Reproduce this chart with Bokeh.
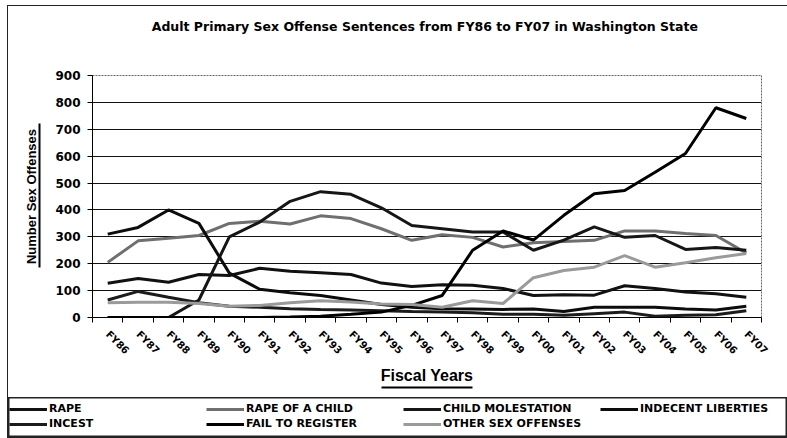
import math
from bokeh.plotting import figure
from bokeh.layouts import column
from bokeh.models import Range1d, FixedTicker, Legend, LegendItem, LinearAxis
from bokeh.embed import file_html
from bokeh.resources import INLINE

years = ["FY86", "FY87", "FY88", "FY89", "FY90", "FY91", "FY92", "FY93", "FY94", "FY95", "FY96",
         "FY97", "FY98", "FY99", "FY00", "FY01", "FY02", "FY03", "FY04", "FY05", "FY06", "FY07"]

rape = [127, 145, 131, 160, 156, 183, 172, 166, 160, 128, 115, 122, 120, 108, 82, 85, 83, 118, 108, 95, 88, 75]
rape_of_child = [205, 285, 295, 305, 350, 358, 348, 378, 368, 330, 287, 308, 298, 262, 278, 283, 287, 322, 322, 312, 305, 240]
child_molestation = [0, 0, 0, 65, 300, 355, 432, 468, 458, 408, 342, 330, 318, 318, 250, 288, 337, 298, 305, 253, 260, 250]
indecent_liberties = [310, 335, 400, 350, 165, 105, 92, 82, 65, 48, 38, 33, 32, 30, 32, 22, 38, 38, 38, 32, 28, 42]
incest = [65, 97, 75, 55, 42, 38, 33, 30, 28, 25, 22, 20, 18, 12, 12, 8, 14, 20, 5, 8, 10, 25]
fail_to_register = [0, 0, 0, 0, 0, 0, 2, 5, 12, 20, 45, 82, 250, 322, 288, 380, 460, 472, 540, 610, 780, 740]
other = [55, 57, 57, 52, 42, 45, 55, 62, 58, 50, 48, 38, 62, 52, 148, 175, 187, 230, 187, 204, 222, 238]

y_ticks = [0, 100, 200, 300, 400, 500, 600, 700, 800, 900]

title_text = "Adult  Primary Sex Offense Sentences from FY86 to FY07 in Washington State"

series = [
    ("RAPE", rape, "#111111"),
    ("RAPE OF A CHILD", rape_of_child, "#6f6f6f"),
    ("CHILD MOLESTATION", child_molestation, "#161616"),
    ("INDECENT LIBERTIES", indecent_liberties, "#0c0c0c"),
    ("INCEST", incest, "#1c1c1c"),
    ("FAIL TO REGISTER", fail_to_register, "#000000"),
    ("OTHER SEX OFFENSES", other, "#9a9a9a"),
]

n = len(years)
xs = list(range(n))

p = figure(width=779, height=391, output_backend="svg", toolbar_location=None,
           x_range=Range1d(-0.5, n - 0.5), y_range=Range1d(y_ticks[0], y_ticks[-1]),
           min_border_left=84, min_border_right=26, min_border_top=69, min_border_bottom=80)
p.frame_align = False

for name, vals, col in series:
    p.line(xs, vals, line_color=col, line_width=3)

def bare_axis(**kw):
    return LinearAxis(ticker=FixedTicker(ticks=[]), major_tick_out=0, major_tick_in=0,
                      minor_tick_out=0, minor_tick_in=0, major_label_standoff=0, **kw)

# x axis (main, below the frame)
xa = p.below[0]
xa.ticker = FixedTicker(ticks=xs, minor_ticks=[i - 0.5 for i in range(n + 1)])
xa.major_label_overrides = {i: y for i, y in enumerate(years)}
xa.major_label_orientation = -math.pi / 4
xa.major_tick_out = 0
xa.major_tick_in = 0
xa.minor_tick_out = 5
xa.minor_tick_in = 0
xa.minor_tick_line_color = "black"
xa.major_label_text_font = "DejaVu Sans"
xa.major_label_text_font_style = "bold"
xa.major_label_text_font_size = "10px"
xa.major_label_text_color = "black"
xa.major_label_standoff = 10
xa.axis_label = "Fiscal Years"
xa.axis_label_text_font = "Liberation Sans"
xa.axis_label_text_font_style = "bold"
xa.axis_label_text_font_size = "16px"
xa.axis_label_text_color = "black"
xa.axis_label_standoff = 4
xa.axis_line_color = "black"

mid = (n - 1) / 2
p.add_layout(bare_axis(bounds=(mid - 1.5, mid + 1.5), axis_line_width=2, axis_line_color="black"), "below")

# title as an axis label above the frame (centred a little left of the frame centre)
t_mid = mid - 0.75
t_ax = bare_axis(axis_line_color=None, bounds=(-0.5, 2 * t_mid + 0.5),
                 axis_label=title_text, axis_label_standoff=42,
                 axis_label_text_font="DejaVu Sans", axis_label_text_font_style="bold",
                 axis_label_text_font_size="12.5px", axis_label_text_color="black")
p.add_layout(t_ax, "above")

# y axis
ya = p.left[0]
ya.ticker = FixedTicker(ticks=y_ticks)
ya.major_tick_out = 5
ya.major_tick_in = 0
ya.minor_tick_line_color = None
ya.major_label_text_font = "DejaVu Sans"
ya.major_label_text_font_style = "bold"
ya.major_label_text_font_size = "12px"
ya.major_label_text_color = "black"
ya.major_label_standoff = 7
ya.axis_line_color = "black"
ya.axis_label = " "
ya.axis_label_text_font_size = "2px"
ya.axis_label_standoff = 8

# underline of the y title, then the y title itself
p.add_layout(bare_axis(bounds=(186, 721), axis_line_width=2, axis_line_color="black"), "left")
p.add_layout(bare_axis(axis_line_color=None, axis_label="Number Sex Offenses", axis_label_standoff=1,
                       axis_label_text_font="Liberation Sans", axis_label_text_font_style="bold",
                       axis_label_text_font_size="13px", axis_label_text_color="black"), "left")

p.xgrid.grid_line_color = None
p.ygrid.grid_line_color = "#111111"
p.ygrid.grid_line_width = 1
p.outline_line_color = "#666666"
p.outline_line_dash = "2 1"

# legend panel
lg = figure(width=779, height=40, output_backend="svg", toolbar_location=None,
            x_range=Range1d(0, 1), y_range=Range1d(0, 1), min_border=0,
            x_axis_location=None, y_axis_location=None)
lg.frame_align = False
lg.grid.grid_line_color = None
lg.outline_line_color = "#222222"
lg.outline_line_width = 2

items = []
for name, vals, col in series:
    r = lg.line([2, 3], [2, 3], line_color=col, line_width=3)
    items.append(LegendItem(label=name, renderers=[r]))

legend = Legend(items=items, orientation="horizontal", ncols=4, location=(1, 7),
                glyph_width=38, glyph_height=12, label_height=12, label_standoff=2,
                label_width=155, spacing=2, padding=0, margin=0,
                label_text_font="DejaVu Sans", label_text_font_style="bold",
                label_text_font_size="11px", label_text_color="black",
                border_line_color=None, background_fill_alpha=0)
lg.add_layout(legend)

layout = column(p, lg, spacing=0,
                styles={"margin-left": "7px", "margin-top": "5px", "border": "1px solid #222222"})

open("out.html", "w").write(file_html(layout, INLINE))
